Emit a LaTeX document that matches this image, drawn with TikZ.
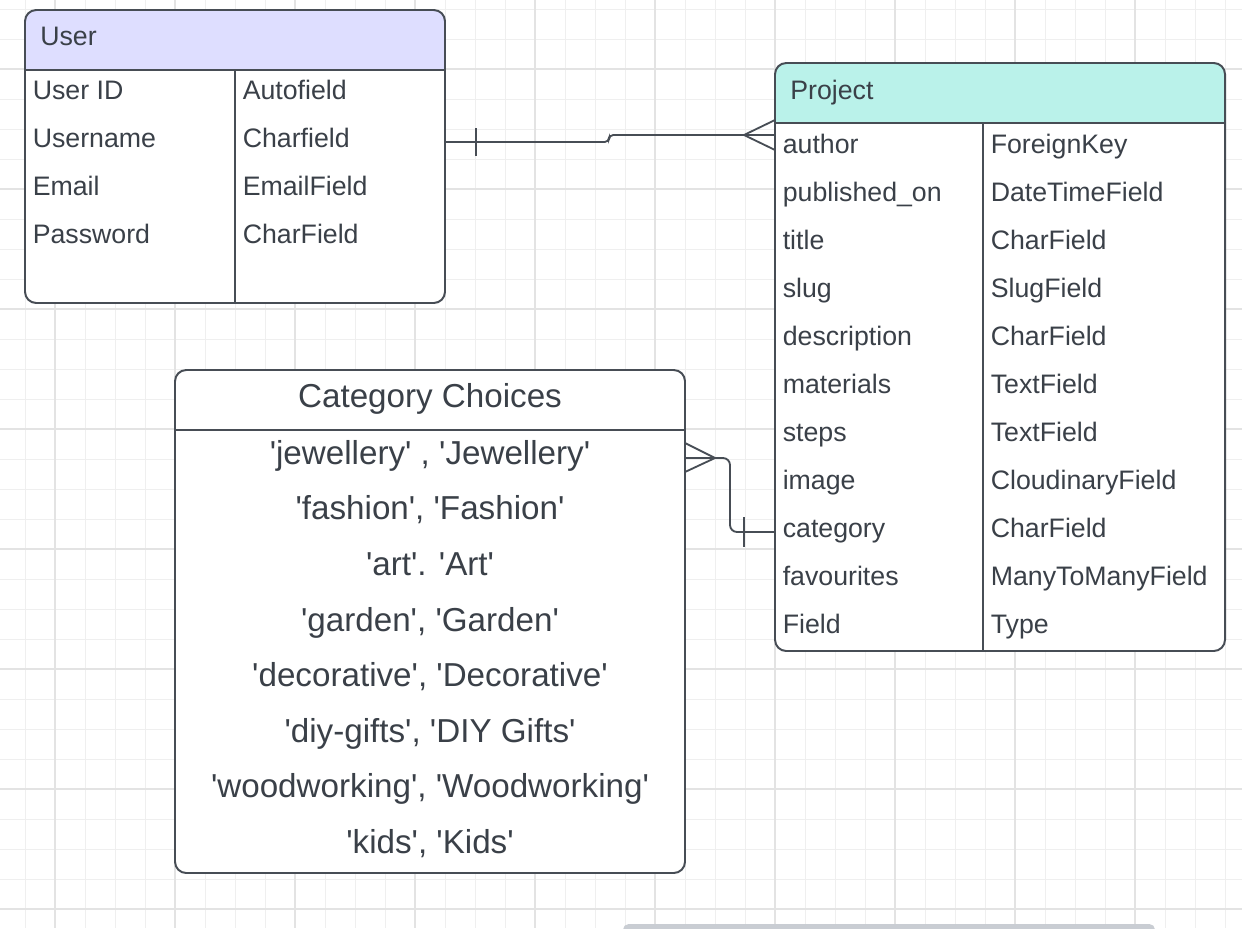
\documentclass[tikz,border=0pt]{standalone}
\usepackage{fontspec}
\setmainfont{Liberation Sans}[Ligatures=TeXOff]
\usetikzlibrary{positioning,calc}
\definecolor{edge}{HTML}{474D55}
\definecolor{ink}{HTML}{3A4048}
\definecolor{userhead}{HTML}{DEDEFF}
\definecolor{projhead}{HTML}{BAF2EA}
\definecolor{gridminor}{HTML}{EFEFEF}
\definecolor{gridmajor}{HTML}{E3E3E3}
\definecolor{barfill}{HTML}{C9CDD3}

\tikzset{
  tbl/.style={draw=edge, line width=1.4pt, rounded corners=8},
  rowline/.style={draw=edge, line width=1.4pt},
  conn/.style={draw=edge, line width=1.3pt},
  field/.style={anchor=west, inner sep=0pt, text=ink, font=\fontsize{19}{22}\selectfont, text height=13.8pt, text depth=0pt},
  choice/.style={inner sep=0pt, text=ink, font=\fontsize{23.6}{28}\selectfont, text height=17.2pt, text depth=0pt},
}

\begin{document}
\begin{tikzpicture}[x=0.025cm, y=-0.025cm]
\useasboundingbox (0,0) rectangle (1242,928);
\fill[white] (0,0) rectangle (1242,928);
\foreach \gx in {25,55,...,1225} \draw[gridminor, line width=0.7pt] (\gx,0) -- (\gx,928);
\foreach \gy in {9,39,...,909} \draw[gridminor, line width=0.7pt] (0,\gy) -- (1242,\gy);
\foreach \gx in {55,175,...,1135} \draw[gridmajor, line width=0.8pt] (\gx,0) -- (\gx,928);
\foreach \gy in {69,189,...,909} \draw[gridmajor, line width=0.8pt] (0,\gy) -- (1242,\gy);

\begin{scope}
\clip (0,0) rectangle (1242,928);
\fill[barfill, rounded corners=4] (623,924) rectangle (1155,950);
\end{scope}

% User
\coordinate (user-nw) at (25,10);
\coordinate (user-se) at (445,303);
\begin{scope}
\clip[rounded corners=8] (user-nw) rectangle (user-se);
\fill[white] (user-nw) rectangle (user-se);
\fill[userhead] (user-nw) rectangle (445,70);
\end{scope}
\draw[tbl] (user-nw) rectangle (user-se);
\draw[rowline] (25,70) -- (445,70);
\draw[rowline] (235,70) -- (235,303);
\node[field] (user) at (40,36) {User};
\foreach \fname/\ftype [count=\i] in {User ID/Autofield, Username/Charfield, Email/EmailField, Password/CharField} {
  \node[field] (u\i) at (32.5,42+48*\i) {\fname};
  \node[field] (ut\i) at (242.5,42+48*\i) {\ftype};
}

% Project
\coordinate (proj-nw) at (775,63);
\coordinate (proj-se) at (1225,651);
\begin{scope}
\clip[rounded corners=8] (proj-nw) rectangle (proj-se);
\fill[white] (proj-nw) rectangle (proj-se);
\fill[projhead] (proj-nw) rectangle (1225,123);
\end{scope}
\draw[tbl] (proj-nw) rectangle (proj-se);
\draw[rowline] (775,123) -- (1225,123);
\draw[rowline] (983,123) -- (983,651);
\node[field] (project) at (790,90) {Project};
\foreach \fname/\ftype [count=\i] in {author/ForeignKey, published\_on/DateTimeField, title/CharField, slug/SlugField, description/CharField, materials/TextField, steps/TextField, image/CloudinaryField, category/CharField, favourites/ManyToManyField, Field/Type} {
  \node[field] (p\i) at (782.5,96+48*\i) {\fname};
  \node[field] (pt\i) at (990.5,96+48*\i) {\ftype};
}

% Category Choices
\coordinate (cat-nw) at (175,370);
\coordinate (cat-se) at (685,873);
\fill[white, rounded corners=8] (cat-nw) rectangle (cat-se);
\draw[tbl] (cat-nw) rectangle (cat-se);
\draw[rowline] (175,430) -- (685,430);
\node[choice] (choices) at (430,395.5) {Category Choices};
\foreach \opt [count=\i] in {{'jewellery' , 'Jewellery'}, {'fashion', 'Fashion'}, {'art'. 'Art'}, {'garden', 'Garden'}, {'decorative', 'Decorative'}, {'diy-gifts', 'DIY Gifts'}, {'woodworking', 'Woodworking'}, {'kids', 'Kids'}} {
  \node[choice] (c\i) at (430,396.6+55.6*\i) {\opt};
}

% connectors
\coordinate (u-out) at (445,142);
\coordinate (p-in) at (775,135);
\draw[conn, rounded corners=3] (u-out) -- (609,142) -- (609,135) -- (p-in);
\draw[conn] ($(u-out)+(31,-14)$) -- ($(u-out)+(31,14)$);
\draw[conn] ($(p-in)+(0,-15)$) -- ($(p-in)+(-31,0)$) -- ($(p-in)+(0,15)$);

\coordinate (c-out) at (685,458);
\coordinate (p-cat) at (775,532);
\draw[conn, rounded corners=5] (c-out) -- (730,458) -- (730,532) -- (p-cat);
\draw[conn] ($(c-out)+(0,-15)$) -- ($(c-out)+(30,0)$) -- ($(c-out)+(0,14)$);
\draw[conn] ($(p-cat)+(-31,-15)$) -- ($(p-cat)+(-31,15)$);
\end{tikzpicture}
\end{document}
